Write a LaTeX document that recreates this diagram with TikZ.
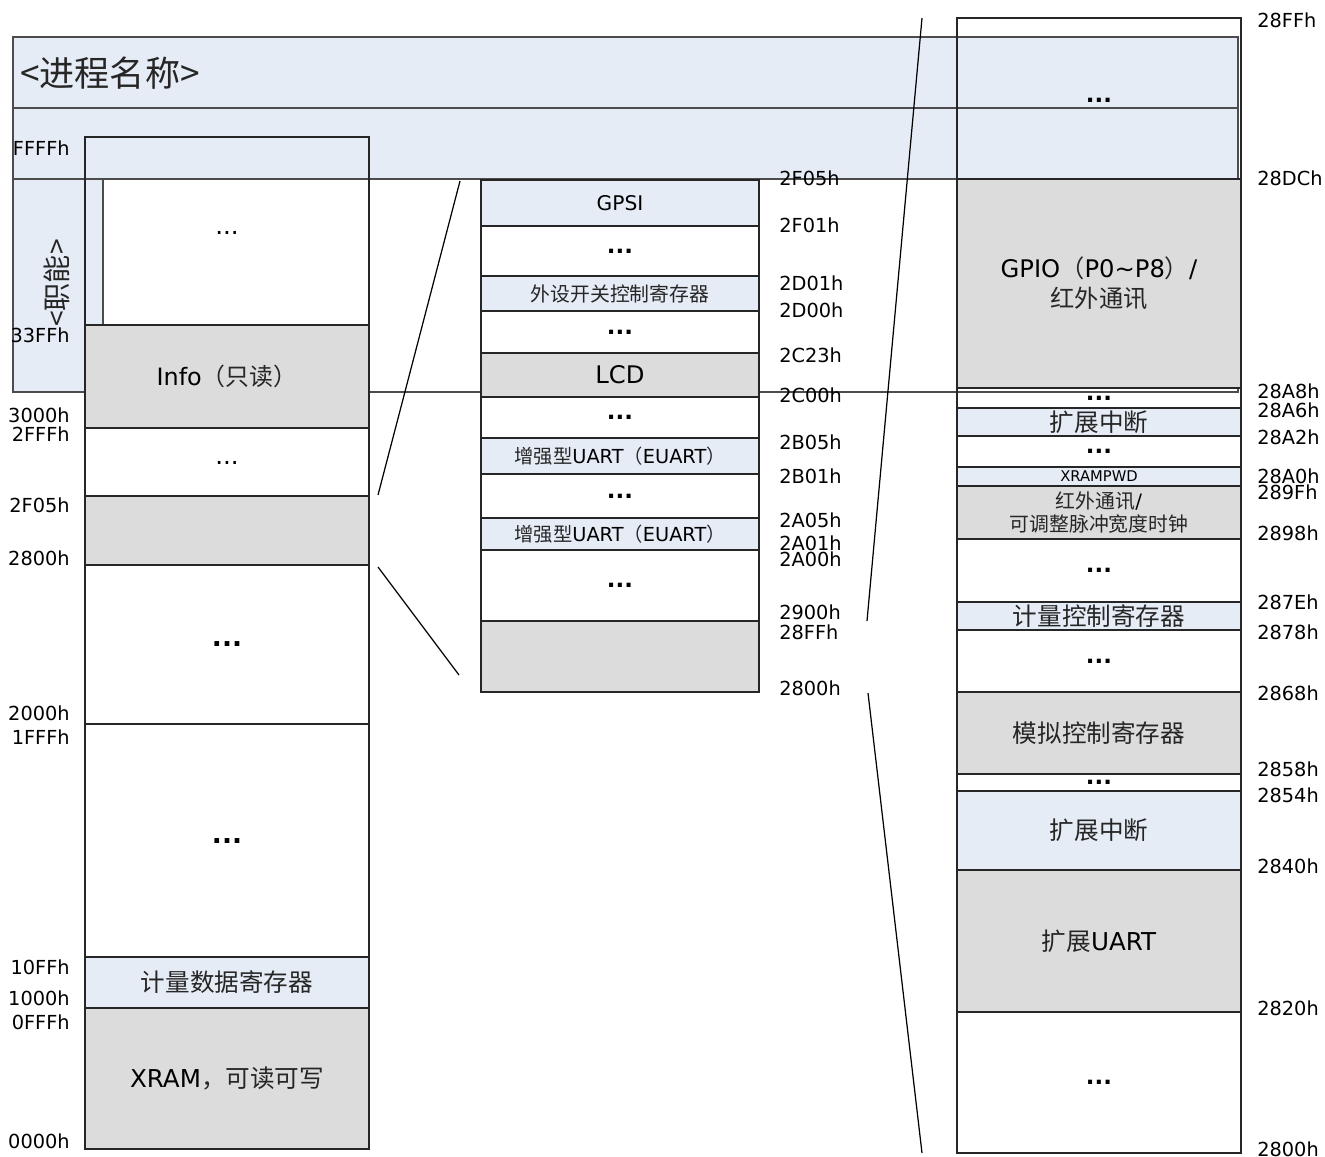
\documentclass[tikz,border=0pt]{standalone}
\usepackage{fontspec}
\setmainfont{DejaVu Sans}
\newfontfamily\cjk{Noto Sans CJK SC}
\definecolor{bandblue}{RGB}{230,236,246}
\definecolor{cellgray}{RGB}{220,220,220}
\newcommand\zh[1]{{\cjk\color{black!85}#1}}
\newcommand\dotsmark{...}
\begin{document}
\begin{tikzpicture}[x=0.02cm,y=-0.02cm,
		cell/.style={draw=black!85,line width=1pt},
		band/.style={draw=black!70,line width=0.7pt,fill=bandblue},
		addr/.style={font=\fontsize{11}{11}\selectfont,inner sep=0pt},
		zoomline/.style={draw=black,line width=0.7pt}]
	\useasboundingbox (0,0) rectangle (1325,1156);
	% template boxes lying behind the map
	\draw[band] (13,37) rectangle (1238,108);
	\draw[band] (13,108) rectangle (1238,179);
	\draw[band,fill=white] (13,179) rectangle (1238,392);
	\draw[band] (13,179) rectangle (103,392);
	\node[anchor=west,font=\fontsize{20}{20}\selectfont] (title) at (14,73) {\zh{<进程名称>}};
	\node[rotate=90,font=\fontsize{16}{16}\selectfont] (role) at (57,283) {\zh{<职能>}};
	% whole XRAM space
	\foreach \t/\b/\f/\fs/\txt [count=\i] in {
			137/325/none/14/{\raisebox{-4.5pt}{\dotsmark}},
			325/428/cellgray/13.6/{Info\zh{（只读）}},
			428/496/white/14/{\raisebox{-3pt}{\dotsmark}},
			496/565/cellgray/14/{},
			565/724/white/15/{\textbf{\dotsmark}},
			724/957/white/15/{\textbf{\dotsmark}},
			957/1008/bandblue/14/{\zh{计量数据寄存器}},
			1008/1149/cellgray/14/{XRAM\zh{，可读可写}}}
		\draw[cell,fill=\f] (85,\t) rectangle (369,\b) node[midway,align=center,font=\fontsize{\fs}{17}\selectfont] (L\i) {\txt};
	% 2800h -- 2F05h
	\foreach \t/\b/\f/\fs/\txt [count=\i] in {
			180/226/bandblue/11.5/GPSI,
			226/276/white/13/{\textbf{\dotsmark}},
			276/311/bandblue/11.3/{\zh{外设开关控制寄存器}},
			311/353/white/13/{\textbf{\dotsmark}},
			353/397/cellgray/13.8/LCD,
			397/438/white/13/{\textbf{\dotsmark}},
			438/474/bandblue/11/{\zh{增强型}UART\zh{（}EUART\zh{）}},
			474/518/white/13/{\textbf{\dotsmark}},
			518/550/bandblue/11/{\zh{增强型}UART\zh{（}EUART\zh{）}},
			550/621/white/13/{\textbf{\dotsmark}},
			621/692/cellgray/13/{}}
		\draw[cell,fill=\f] (481,\t) rectangle (759,\b) node[midway,align=center,font=\fontsize{\fs}{17}\selectfont] (M\i) {\txt};
	% 2800h -- 28FFh
	\foreach \t/\b/\f/\fs/\txt [count=\i] in {
			18/179/none/13/{\raisebox{-4.5pt}{\textbf{\dotsmark}}},
			179/388/cellgray/13.8/{GPIO\zh{（}P0\textasciitilde P8\zh{）}/\\\zh{红外通讯}},
			388/408/none/13/{\textbf{\dotsmark}},
			408/436/bandblue/14/{\zh{扩展中断}},
			436/467/white/13/{\textbf{\dotsmark}},
			467/486/bandblue/8.4/XRAMPWD,
			486/539/cellgray/11.3/{\zh{红外通讯}/\\[-4pt]\zh{可调整脉冲宽度时钟}},
			539/602/white/13/{\textbf{\dotsmark}},
			602/630/bandblue/14/{\zh{计量控制寄存器}},
			630/692/white/13/{\textbf{\dotsmark}},
			692/774/cellgray/14/{\zh{模拟控制寄存器}},
			774/791/white/13/{\textbf{\dotsmark}},
			791/870/bandblue/14/{\zh{扩展中断}},
			870/1012/cellgray/14/{\zh{扩展}UART},
			1012/1153/white/13/{\textbf{\dotsmark}}}
		\draw[cell,fill=\f] (957,\t) rectangle (1241,\b) node[midway,align=center,font=\fontsize{\fs}{17}\selectfont] (R\i) {\txt};
	% addresses
	\foreach \y/\a [count=\i] in {148/FFFFh,335/33FFh,415/3000h,434/2FFFh,505/2F05h,558/2800h,
			713/2000h,737/1FFFh,967/10FFh,998/1000h,1022/0FFFh,1141/0000h}
		\node[addr,anchor=east] (la\i) at (70,\y) {\a};
	\foreach \y/\a [count=\i] in {178/2F05h,225/2F01h,283/2D01h,310/2D00h,355/2C23h,395/2C00h,
			442/2B05h,476/2B01h,520/2A05h,543/2A01h,559/2A00h,612/2900h,632/28FFh,688/2800h}
		\node[addr,anchor=west] (ma\i) at (779,\y) {\a};
	\foreach \y/\a [count=\i] in {20/28FFh,178/28DCh,391/28A8h,410/28A6h,437/28A2h,476/28A0h,
			492/289Fh,533/2898h,602/287Eh,632/2878h,693/2868h,769/2858h,795/2854h,866/2840h,
			1008/2820h,1149/2800h}
		\node[addr,anchor=west] (ra\i) at (1257,\y) {\a};
	% zoom lines
	\coordinate (lz1) at (378,495);
	\coordinate (lz2) at (378,567);
	\coordinate (mz1) at (460,181);
	\coordinate (mz2) at (459,675);
	\coordinate (mz3) at (867,621);
	\coordinate (mz4) at (868,693);
	\coordinate (rz1) at (922,18);
	\coordinate (rz2) at (922,1153);
	\draw[zoomline] (lz1) -- (mz1);
	\draw[zoomline] (lz2) -- (mz2);
	\draw[zoomline] (mz3) -- (rz1);
	\draw[zoomline] (mz4) -- (rz2);
\end{tikzpicture}
\end{document}
